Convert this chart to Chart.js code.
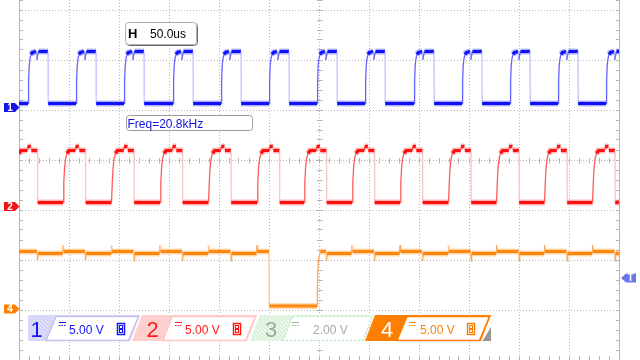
<!DOCTYPE html>
<html>
<head>
<meta charset="utf-8">
<title>Scope capture</title>
<script src="https://cdn.jsdelivr.net/npm/chart.js@4/dist/chart.umd.min.js"></script>
<style>
  html, body { margin: 0; padding: 0; background: #fff; }
  #scope { display: block; }
</style>
</head>
<body>
<canvas id="scope" width="640" height="360"></canvas>
<script>
// Scope capture: CH1 / CH2 PWM, CH4 enable line, 50 us/div, 5 V/div

// rising edges on screen (us, 0 = centre of screen)
const ch1Rise = [-291, -243, -195, -146, -98, -50, -2, 46, 95, 143, 191, 239, 287];
const ch2Rise = [-304, -256, -207.5, -159, -110.5, -62, -15, 33, 81, 129.5, 177.5, 225.5, 273.5];
const ch1Width = 20;     // us high
const ch2Width = 22.5;
const ch4LowStart = -50; // ch4 drops once
const ch4LowEnd = -2;

// pulse shapes: [us after rising edge, volts]
const ch1Pulse = [[0, 0.4], [0.6, 2.6], [1.2, 4.2], [2, 4.9], [3, 5.3], [4.5, 5.5], [8.3, 5.6], [8.8, 4.75], [9.6, 5.2], [10.5, 5.6], [20, 5.6]];
const ch2Pulse = [[0, 0.4], [0.8, 2.4], [1.6, 3.9], [2.6, 4.8], [4, 5.3], [6, 5.6], [12.2, 5.6], [12.6, 6.0], [16, 6.0], [16.4, 5.6], [22.5, 5.6]];
const ch4Recover = [[0, 0.3], [0.4, 2.2], [1, 4.3], [2, 5.2], [3.5, 5.75]];

// levels (V)
const ch1Low = 0.4, ch2Low = 0.4;
const ch4High = 5.75, ch4Sag = 5.55, ch4Low = 0.3, ch4Dip = 4.8, ch4Spike = 6.4;
const trigLevel = 3.1;   // on ch4

// labels
const chNames = ['1', '2', '3', '4'];
const chScales = ['5.00 V', '5.00 V', '2.00 V', '5.00 V'];
const timebase = '50.0us';
const freqText = 'Freq=20.8kHz';

// screen setup
const VOLTS_PER_DIV = 5;
const GND = { 1: 5.05, 2: 3.07, 4: 1.02 };   // ground marker, divisions from bottom
const toDiv = (ch, v) => GND[ch] + v / VOLTS_PER_DIV;

const FONT = '"Liberation Sans", Arial, sans-serif';

function pulseTrain(ch, rises, width, shape, low) {
  const pts = [{ x: -310, y: toDiv(ch, low) }];
  rises.forEach(r => {
    shape.forEach(([dt, v]) => pts.push({ x: r + dt, y: toDiv(ch, v) }));
    pts.push({ x: r + width + 0.2, y: toDiv(ch, low) });
  });
  pts.push({ x: 310, y: toDiv(ch, low) });
  return pts;
}

// ch4 picks up ch2 edges: spike on rise, dip on fall
function ch4Trace() {
  const inLow = t => t > ch4LowStart - 3 && t < ch4LowEnd + 5;
  const ev = [{ t: ch4LowStart, low: true }];
  ch2Rise.forEach(r => {
    if (!inLow(r)) ev.push({ t: r, v: ch4Spike, after: ch4High });
    if (!inLow(r + ch2Width)) ev.push({ t: r + ch2Width, v: ch4Dip, after: ch4Sag });
  });
  ev.sort((a, b) => a.t - b.t);
  let level = ch4Sag;
  const pts = [{ x: -310, y: level }];
  ev.forEach(e => {
    if (e.low) {
      pts.push({ x: ch4LowStart, y: level }, { x: ch4LowStart + 0.2, y: ch4Low });
      ch4Recover.forEach(([dt, v]) => pts.push({ x: ch4LowEnd + dt, y: v }));
      level = ch4High;
    } else {
      pts.push({ x: e.t - 0.4, y: level }, { x: e.t, y: e.v }, { x: e.t + 0.6, y: e.after });
      level = e.after;
    }
  });
  pts.push({ x: 310, y: level });
  return pts.map(p => ({ x: p.x, y: toDiv(4, p.y) }));
}

const ch1Data = pulseTrain(1, ch1Rise, ch1Width, ch1Pulse, ch1Low);
const ch2Data = pulseTrain(2, ch2Rise, ch2Width, ch2Pulse, ch2Low);
const ch4Data = ch4Trace();

// steep segments are drawn thin and pale like the scope does
function steep(c) { return Math.abs(c.p1.y - c.p0.y) > 3 * Math.abs(c.p1.x - c.p0.x); }
function isFall(c) { return c.p1.y > c.p0.y && Math.abs(c.p1.x - c.p0.x) < 0.6; }

function traceSets(data, main, edge, faint, halo) {
  return [
    {
      data, borderColor: halo, borderWidth: 6, pointRadius: 0, tension: 0,
      segment: { borderColor: c => steep(c) ? 'rgba(0,0,0,0)' : undefined }
    },
    {
      data, borderColor: main, borderWidth: 3.2, pointRadius: 0, tension: 0,
      segment: {
        borderColor: c => steep(c) ? (isFall(c) ? faint : edge) : undefined,
        borderWidth: c => steep(c) ? 1.3 : undefined
      }
    }
  ];
}

// frame, minor ticks, centre axes
const scopeFrame = {
  id: 'scopeFrame',
  beforeDatasetsDraw(chart) {
    const { ctx, scales: { x, y } } = chart;
    const L = Math.floor(x.getPixelForValue(-300)) + 0.5;
    const R = Math.floor(x.getPixelForValue(300)) + 0.5;
    const C = Math.floor(x.getPixelForValue(0)) + 0.5;
    const M = Math.floor(y.getPixelForValue(4)) + 0.5;
    ctx.save();
    ctx.strokeStyle = '#b4b4b4';
    ctx.lineWidth = 1;
    ctx.beginPath();
    ctx.moveTo(L, 0); ctx.lineTo(L, 360);
    ctx.moveTo(R, 0); ctx.lineTo(R, 360);
    for (let k = 0; k <= 36; k++) {
      const py = Math.floor(y.getPixelForValue(k / 5)) + 0.5;
      ctx.moveTo(L, py); ctx.lineTo(L + 3.5, py);
      ctx.moveTo(R - 3.5, py); ctx.lineTo(R, py);
      ctx.moveTo(C - 2.5, py); ctx.lineTo(C + 3, py);
    }
    for (let k = -30; k <= 30; k++) {
      const px = Math.floor(x.getPixelForValue(k * 10)) + 0.5;
      ctx.moveTo(px, 356); ctx.lineTo(px, 360);
      ctx.moveTo(px, M - 2.5); ctx.lineTo(px, M + 3);
    }
    ctx.stroke();
    ctx.restore();
  }
};

function poly(ctx, pts) {
  ctx.beginPath();
  pts.forEach(([px, py], i) => i ? ctx.lineTo(px, py) : ctx.moveTo(px, py));
  ctx.closePath();
}

function leftMarker(ctx, py, color, label) {
  ctx.fillStyle = color;
  ctx.beginPath();
  ctx.moveTo(4, py - 4.5); ctx.lineTo(15, py - 4.5); ctx.lineTo(19.5, py);
  ctx.lineTo(15, py + 4.5); ctx.lineTo(4, py + 4.5); ctx.closePath();
  ctx.fill();
  ctx.fillStyle = '#fff';
  ctx.font = 'bold 10px ' + FONT;
  ctx.textAlign = 'center'; ctx.textBaseline = 'middle';
  ctx.fillText(label, 10, py + 0.5);
}

function dcSymbol(ctx, x0, color) {
  ctx.strokeStyle = color; ctx.lineWidth = 1;
  ctx.beginPath();
  ctx.moveTo(x0, 322.5); ctx.lineTo(x0 + 7, 322.5);
  for (let i = 0; i < 3; i++) { ctx.moveTo(x0 + i * 2.5, 325.5); ctx.lineTo(x0 + i * 2.5 + 1.5, 325.5); }
  ctx.stroke();
}

function bwIcon(ctx, x0, color) {
  ctx.strokeStyle = color; ctx.lineWidth = 1.5;
  ctx.strokeRect(x0 + 0.5, 323.5, 7, 11);
  ctx.lineWidth = 1;
  ctx.strokeRect(x0 + 2.5, 325.5, 3, 3);
  ctx.strokeRect(x0 + 2.5, 329.5, 3, 3);
}

const blocks = [
  { outer: [[28, 315], [140, 315], [130, 341], [28, 341]], inner: [[56, 316.5], [138.5, 316.5], [128.5, 340.5], [46, 340.5]],
    base: '#dedefa', stripe: '#c6c6f2', frame: '#c2c2f0', num: '#1414f0', numX: 36.5, col: '#1414f0', sym: 59, txt: 69, icon: 117 },
  { outer: [[142, 315], [257, 315], [247, 341], [132, 341]], inner: [[172, 316.5], [255.5, 316.5], [245.5, 340.5], [163, 340.5]],
    base: '#ffd2d2', stripe: '#ffc6c6', frame: '#ffc4c4', num: '#ff1a1a', numX: 152.5, col: '#ff1a1a', sym: 175, txt: 185, icon: 233 },
  { outer: [[260, 315], [374, 315], [364, 341], [250, 341]], inner: [[293, 316.5], [372.5, 316.5], [362.5, 340.5], [283, 340.5]],
    base: '#e8f7e8', stripe: '#c8ecc8', frame: '#b4e2b4', dashed: true, num: '#a4a4a4', numX: 271, col: '#a8a8a8', sym: 292, txt: 313, icon: null },
  { outer: [[375, 315], [491, 315], [481, 341], [365, 341]], inner: [[407, 316.5], [489.5, 316.5], [479.5, 340.5], [397, 340.5]],
    base: '#ff8000', stripe: null, frame: '#ff8000', num: '#ffffff', numX: 387, col: '#ff8000', sym: 409, txt: 420, icon: 467 }
];

const scopeOverlay = {
  id: 'scopeOverlay',
  afterDraw(chart) {
    const { ctx, scales: { y } } = chart;
    ctx.save();

    // timebase box
    ctx.beginPath(); ctx.roundRect(126.5, 23.5, 71, 22, 3);
    ctx.strokeStyle = '#6c6c6c'; ctx.lineWidth = 1; ctx.stroke();
    ctx.beginPath(); ctx.roundRect(125.5, 22.5, 71, 22, 3);
    ctx.fillStyle = '#fff'; ctx.fill();
    ctx.strokeStyle = '#b0b0b0'; ctx.stroke();
    ctx.fillStyle = '#000'; ctx.textAlign = 'left'; ctx.textBaseline = 'alphabetic';
    ctx.font = 'bold 13px ' + FONT; ctx.fillText('H', 128, 37.5);
    ctx.font = '12px ' + FONT; ctx.fillText(timebase, 150, 37.5);

    // frequency readout
    ctx.beginPath(); ctx.roundRect(126.5, 115.5, 126, 15, 3);
    ctx.fillStyle = '#fff'; ctx.fill();
    ctx.strokeStyle = '#9c9c9c'; ctx.stroke();
    ctx.fillStyle = '#1212e6'; ctx.font = '12px ' + FONT;
    ctx.fillText(freqText, 127.5, 128.3);

    // channel info bar
    blocks.forEach((b, i) => {
      ctx.save();
      poly(ctx, b.outer); ctx.fillStyle = b.base; ctx.fill();
      if (b.stripe) {
        ctx.clip();
        ctx.strokeStyle = b.stripe; ctx.lineWidth = 1; ctx.beginPath();
        for (let sx = b.outer[3][0] - 30; sx < b.outer[1][0] + 10; sx += 4) {
          ctx.moveTo(sx, 315); ctx.lineTo(sx + 26, 341);
        }
        ctx.stroke();
      }
      ctx.restore();
      poly(ctx, b.inner);
      ctx.fillStyle = '#fff'; ctx.fill();
      ctx.strokeStyle = b.frame; ctx.lineWidth = b.dashed ? 1 : 1.5;
      ctx.setLineDash(b.dashed ? [2, 2] : []);
      ctx.stroke();
      ctx.setLineDash([]);
      ctx.fillStyle = b.num; ctx.font = '22px ' + FONT;
      ctx.textAlign = 'center'; ctx.textBaseline = 'alphabetic';
      ctx.fillText(chNames[i], b.numX, 336.5);
      dcSymbol(ctx, b.sym, b.col);
      ctx.fillStyle = b.col; ctx.font = '12px ' + FONT; ctx.textAlign = 'left';
      ctx.fillText(chScales[i], b.txt, 333.5);
      if (b.icon !== null) bwIcon(ctx, b.icon, b.col);
    });
    ctx.fillStyle = '#979797';
    ctx.beginPath(); ctx.moveTo(491, 327); ctx.lineTo(491, 341); ctx.lineTo(482.5, 341); ctx.closePath(); ctx.fill();

    // ground markers
    leftMarker(ctx, y.getPixelForValue(toDiv(1, 0)), '#1414e6', '1');
    leftMarker(ctx, y.getPixelForValue(toDiv(2, 0)), '#f01414', '2');
    leftMarker(ctx, y.getPixelForValue(toDiv(4, 0)), '#ff8000', '4');

    // trigger level marker
    const ty = y.getPixelForValue(toDiv(4, trigLevel));
    ctx.fillStyle = '#6a78f0';
    ctx.beginPath();
    ctx.moveTo(621, ty); ctx.lineTo(626, ty - 4.5); ctx.lineTo(636, ty - 4.5);
    ctx.lineTo(636, ty + 4.5); ctx.lineTo(626, ty + 4.5); ctx.closePath(); ctx.fill();
    ctx.fillStyle = '#fff'; ctx.font = 'bold 10px ' + FONT;
    ctx.textAlign = 'center'; ctx.textBaseline = 'middle';
    ctx.fillText('T', 630.5, ty + 0.5);

    ctx.restore();
  }
};

const gridStyle = { color: '#b8b8b8', drawTicks: false, lineWidth: 1 };

new Chart(document.getElementById('scope'), {
  type: 'line',
  data: {
    datasets: [
      ...traceSets(ch4Data, '#ff8000', '#ffa650', '#ffcaa4', 'rgba(255,150,40,0.35)'),
      ...traceSets(ch2Data, '#ff0000', '#ff5a5a', '#ffc6c6', 'rgba(255,50,50,0.32)'),
      ...traceSets(ch1Data, '#0000ff', '#6464ff', '#c6c6ff', 'rgba(50,50,255,0.32)')
    ]
  },
  options: {
    responsive: false,
    animation: false,
    events: [],
    layout: { padding: { left: 19, right: 21, top: 0, bottom: 0 } },
    plugins: { legend: { display: false }, tooltip: { enabled: false } },
    scales: {
      x: {
        type: 'linear', min: -300, max: 300,
        ticks: { display: false, stepSize: 50 },
        grid: gridStyle,
        border: { display: false, dash: [1, 2] }
      },
      y: {
        type: 'linear', min: 0, max: 7.2,
        ticks: { display: false, stepSize: 1, includeBounds: false },
        grid: gridStyle,
        border: { display: false, dash: [1, 2] }
      }
    }
  },
  plugins: [scopeFrame, scopeOverlay]
});
</script>
</body>
</html>
